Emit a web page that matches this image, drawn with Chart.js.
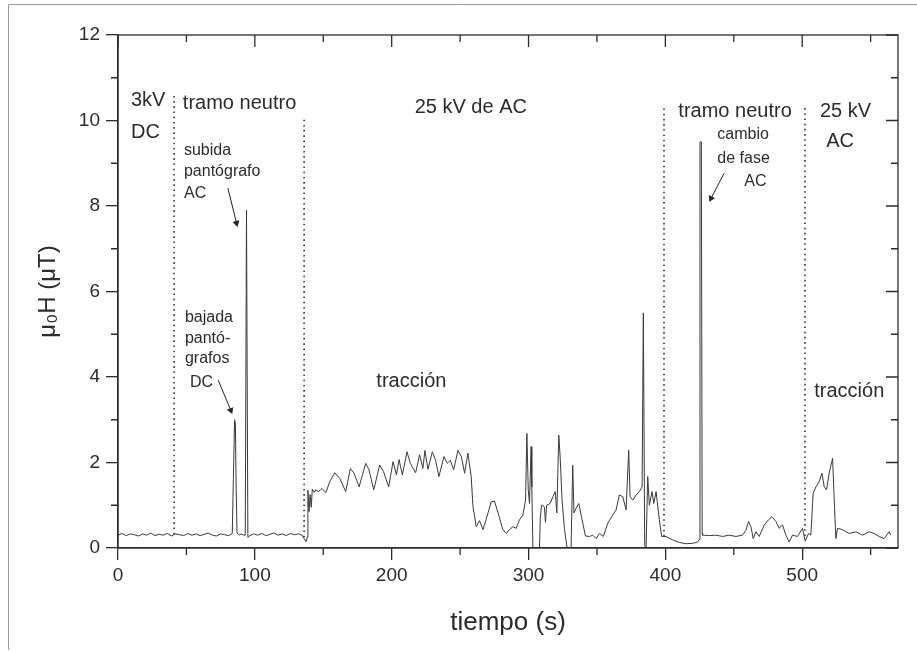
<!DOCTYPE html>
<html>
<head>
<meta charset="utf-8">
<script src="https://cdn.jsdelivr.net/npm/chart.js@4.4.1/dist/chart.umd.min.js"></script>
<style>
  html, body { margin: 0; padding: 0; background: #fff; }
  #wrap { width: 917px; height: 652px; }
</style>
</head>
<body>
<div id="wrap"><canvas id="c" width="917" height="652"></canvas></div>
<script>
// datos: tiempo (s) y campo (µT)
const times = [
  0, 3, 6, 9, 12, 15, 18, 21, 24, 27, 30, 33, 36, 39, 42, 45, 48, 51, 54, 57, 60, 63, 66, 69, 72, 75, 78, 81, 83.5,
  84.3, 85.2, 85.8, 86.3, 87, 88.5, 90, 92, 93, 93.9, 94.9, 96,
  99, 102, 105, 108, 111, 114, 117, 120, 123, 126, 129, 132, 134.5, 136, 137.5, 138.3, 138.8, 139.6, 140.4, 141.2, 142, 143.5, 144.5,
  146.5, 149, 152, 154.7, 158.4, 162, 166.4, 169.8, 172.5, 176.2, 181, 183.4, 186.9, 191.2, 194, 197.8, 201, 203.5, 205.4, 207.8,
  211.2, 213.6, 217.5, 220.4, 222.8, 224.3, 226.5, 229.7, 232.1, 234.5, 238.2, 240.6, 242.8, 245.3, 248.4, 250.9, 253.3, 255.7, 258.1,
  259.4, 261.8, 264.2, 266.7, 269.6, 272.7, 275.1, 278.3, 281.2, 283.7, 286.1, 288.6, 291, 293.4, 295.9, 297.8, 298.8, 299.8, 300.7,
  301.9, 302.4, 303.2, 308, 308.6, 309.5, 310.5, 311.6, 312.4, 313.2, 315.8, 317.8, 319.5, 320.7, 322.1, 323.1, 324.5, 326.3, 328.2,
  331.1, 332.3, 333.2, 334.8, 336.7, 338.7, 341.6, 344.5, 346.9, 349.4, 351.8, 354.7, 357.9, 361.5, 364, 366.4, 368.9, 371.3, 373.2,
  374.2, 376.2, 378.6, 381, 383, 383.9, 384.9, 385.9, 387.1, 388.3, 390.3, 391.5, 393.2, 395.6, 397.3, 400.5, 405.3, 410.2, 415.1,
  420, 423.6, 424.6, 425.3, 426.3, 426.9, 427.2, 432, 436.9, 441.8, 446.6, 451.5, 456.4, 458.8, 460.8, 462.5, 464.2, 466.2, 468.6,
  472.3, 475.4, 477.8, 480.8, 483.2, 485.6, 488.1, 490.5, 492.9, 496.6, 500.2, 502.2, 504.6, 506.3, 508, 510, 512.4, 514.4, 516.1,
  517.8, 519.7, 522.2, 523.4, 524.6, 525.8, 529.4, 534.3, 539.2, 544.1, 548.9, 552.6, 556.2, 559.9, 563.5, 564.7
];
const field = [
  0.30, 0.34, 0.29, 0.33, 0.31, 0.28, 0.33, 0.30, 0.35, 0.29, 0.32, 0.30, 0.34, 0.28, 0.33, 0.31, 0.29, 0.34, 0.30, 0.33, 0.29, 0.32, 0.35, 0.30, 0.28, 0.33, 0.31, 0.29, 0.34,
  1.6, 3.0, 2.9, 1.5, 0.35, 0.30, 0.33, 0.30, 0.30, 7.9, 0.25, 0.28,
  0.33, 0.30, 0.34, 0.29, 0.32, 0.35, 0.30, 0.33, 0.29, 0.34, 0.31, 0.33, 0.30, 0.22, 0.15, 0.25, 1.35, 0.85, 1.25, 0.95, 1.38, 1.30, 1.36,
  1.32, 1.39, 1.30, 1.55, 1.76, 1.63, 1.32, 1.86, 1.75, 1.43, 1.98, 1.83, 1.36, 1.94, 1.79, 1.43, 2.02, 1.71, 2.07, 1.71,
  2.25, 1.98, 1.76, 2.18, 1.86, 2.28, 1.84, 2.25, 2.05, 1.67, 2.14, 1.98, 2.05, 1.83, 2.28, 2.14, 1.75, 2.22, 1.67,
  0.97, 0.50, 0.64, 0.43, 0.73, 1.08, 1.10, 0.76, 0.43, 0.34, 0.43, 0.50, 0.46, 0.66, 0.77, 1.12, 2.68, 1.36, 1.04,
  2.37, 1.43, 0.0, 0.0, 0.7, 1.0, 1.0, 0.95, 0.6, 1.0, 1.04, 1.2, 1.32, 0.82, 2.64, 2.14, 1.12, 0.43, 0.0,
  0.0, 1.94, 0.82, 0.93, 1.04, 0.73, 0.28, 0.27, 0.30, 0.22, 0.34, 0.27, 0.58, 0.77, 0.89, 1.24, 1.2, 0.89, 2.29,
  1.2, 1.12, 1.24, 1.32, 1.43, 5.5, 0.05, 0.0, 1.67, 1.0, 1.32, 1.04, 1.32, 0.66, 0.27, 0.27, 0.19, 0.13, 0.10,
  0.11, 0.14, 0.2, 9.5, 9.5, 0.35, 0.30, 0.29, 0.30, 0.27, 0.30, 0.27, 0.30, 0.41, 0.62, 0.50, 0.22, 0.38, 0.27,
  0.54, 0.66, 0.73, 0.62, 0.46, 0.54, 0.30, 0.14, 0.30, 0.27, 0.46, 0.16, 0.34, 0.30, 1.28, 1.43, 1.55, 1.75, 1.43,
  1.36, 1.75, 2.1, 1.12, 0.22, 0.46, 0.43, 0.34, 0.38, 0.30, 0.38, 0.34, 0.27, 0.22, 0.38, 0.30
];

// límites de tramo (líneas punteadas)
const boundaryX = [41, 136, 399, 502];
const boundaryTop = [10.6, 10.1, 10.3, 10.3];
const boundaryBottom = [0.32, 0.25, 0.27, 0.28];

// flechas [x0, y0, x1, y1]
const arrows = [
  [80.3, 8.42, 86.6, 7.6],
  [73.2, 3.93, 82.4, 3.22],
  [443, 8.77, 433.4, 8.18]
];

const xMajor = [0, 100, 200, 300, 400, 500];
const xMinor = [50, 150, 250, 350, 450, 550];
const yMajor = [0, 2, 4, 6, 8, 10, 12];
const yMinor = [1, 3, 5, 7, 9, 11];

// textos: [texto, x, y, tamaño]
const notes = [
  ['3kV', 9.5, 10.46, 20],
  ['DC', 9.5, 9.71, 20],
  ['tramo neutro', 47.4, 10.39, 20],
  ['25 kV de AC', 216.8, 10.3, 20],
  ['tramo neutro', 409.5, 10.2, 20],
  ['25 kV', 513, 10.2, 20],
  ['AC', 517.5, 9.52, 20],
  ['tracción', 188.8, 3.9, 20],
  ['tracción', 508.8, 3.65, 20],
  ['subida', 48.2, 9.29, 16],
  ['pantógrafo', 48.2, 8.8, 16],
  ['AC', 48.2, 8.28, 16],
  ['bajada', 48.9, 5.4, 16],
  ['pantó-', 48.9, 4.91, 16],
  ['grafos', 48.9, 4.42, 16],
  ['DC', 52.6, 3.88, 16],
  ['cambio', 438, 9.66, 16],
  ['de fase', 438, 9.12, 16],
  ['AC', 457.7, 8.58, 16]
];

const FONT = 'Liberation Sans, Arial, sans-serif';
const INK = '#2b2b2b';

const datasets = [{
  data: times.map((t, i) => ({x: t, y: field[i]})),
  borderColor: '#3a3a3a',
  borderWidth: 1,
  pointRadius: 0,
  tension: 0
}];

boundaryX.forEach((bx, i) => {
  datasets.push({
    data: [{x: bx, y: boundaryBottom[i]}, {x: bx, y: boundaryTop[i]}],
    borderColor: '#333',
    borderWidth: 1.6,
    borderDash: [1.6, 3.6],
    pointRadius: 0
  });
});

arrows.forEach(a => {
  datasets.push({
    data: [{x: a[0], y: a[1]}, {x: a[2], y: a[3]}],
    borderColor: '#222',
    backgroundColor: '#222',
    borderWidth: 1,
    pointStyle: 'triangle',
    pointRadius: [0, 4],
    pointBorderWidth: 0,
    pointRotation: ctx => {
      const sx = ctx.chart.scales.x, sy = ctx.chart.scales.y;
      const dx = sx.getPixelForValue(a[2]) - sx.getPixelForValue(a[0]);
      const dy = sy.getPixelForValue(a[3]) - sy.getPixelForValue(a[1]);
      return Math.atan2(dx, -dy) * 180 / Math.PI;
    }
  });
});

const decor = {
  id: 'decor',
  beforeDraw(chart) {
    const ctx = chart.ctx;
    ctx.save();
    ctx.fillStyle = '#fff';
    ctx.fillRect(0, 0, chart.width, chart.height);
    ctx.strokeStyle = '#9a9a9a';
    ctx.lineWidth = 1;
    ctx.beginPath();
    ctx.moveTo(8.5, 650); ctx.lineTo(8.5, 4.5); ctx.lineTo(917, 4.5);
    ctx.stroke();
    ctx.restore();
  },
  afterDraw(chart) {
    const ctx = chart.ctx;
    const a = chart.chartArea;
    const sx = chart.scales.x, sy = chart.scales.y;
    ctx.save();
    ctx.strokeStyle = INK;
    ctx.lineWidth = 1.3;
    ctx.strokeRect(a.left, a.top, a.right - a.left, a.bottom - a.top);
    ctx.beginPath();
    xMinor.forEach(v => {
      const p = sx.getPixelForValue(v);
      ctx.moveTo(p, a.bottom); ctx.lineTo(p, a.bottom + 7);
      ctx.moveTo(p, a.top); ctx.lineTo(p, a.top + 7);
    });
    xMajor.forEach(v => {
      const p = sx.getPixelForValue(v);
      ctx.moveTo(p, a.top); ctx.lineTo(p, a.top + 12);
    });
    yMinor.forEach(v => {
      const p = sy.getPixelForValue(v);
      ctx.moveTo(a.left, p); ctx.lineTo(a.left - 7, p);
      ctx.moveTo(a.right, p); ctx.lineTo(a.right - 7, p);
    });
    yMajor.forEach(v => {
      const p = sy.getPixelForValue(v);
      ctx.moveTo(a.right, p); ctx.lineTo(a.right - 12, p);
    });
    ctx.stroke();

    ctx.fillStyle = INK;
    ctx.textAlign = 'left';
    ctx.textBaseline = 'middle';
    notes.forEach(n => {
      ctx.font = n[3] + 'px ' + FONT;
      ctx.fillText(n[0], sx.getPixelForValue(n[1]), sy.getPixelForValue(n[2]));
    });
    ctx.restore();
  }
};

new Chart(document.getElementById('c'), {
  type: 'line',
  data: {datasets},
  options: {
    responsive: false,
    animation: false,
    layout: {padding: {top: 35, right: 19, left: 0, bottom: 0}},
    plugins: {legend: {display: false}, tooltip: {enabled: false}},
    scales: {
      x: {
        type: 'linear', min: 0, max: 570,
        afterFit: s => { s.height = 104; },
        afterBuildTicks: s => { s.ticks = xMajor.map(v => ({value: v})); },
        grid: {drawOnChartArea: false, drawTicks: true, tickLength: 12, color: INK, lineWidth: 1.3},
        border: {display: true, color: INK, width: 1.3},
        ticks: {font: {family: FONT, size: 19}, color: INK, padding: 4, maxRotation: 0},
        title: {display: true, text: 'tiempo (s)', font: {family: FONT, size: 26}, color: INK, padding: {top: 0, bottom: 14}}
      },
      y: {
        type: 'linear', min: 0, max: 12,
        afterFit: s => { s.width = 118; },
        afterBuildTicks: s => { s.ticks = yMajor.map(v => ({value: v})); },
        grid: {drawOnChartArea: false, drawTicks: true, tickLength: 12, color: INK, lineWidth: 1.3},
        border: {display: true, color: INK, width: 1.3},
        ticks: {font: {family: FONT, size: 19}, color: INK, padding: 6},
        title: {display: true, text: 'μ₀H (μT)', font: {family: FONT, size: 24}, color: INK, padding: {top: 34, bottom: 0}}
      }
    }
  },
  plugins: [decor]
});
</script>
</body>
</html>
